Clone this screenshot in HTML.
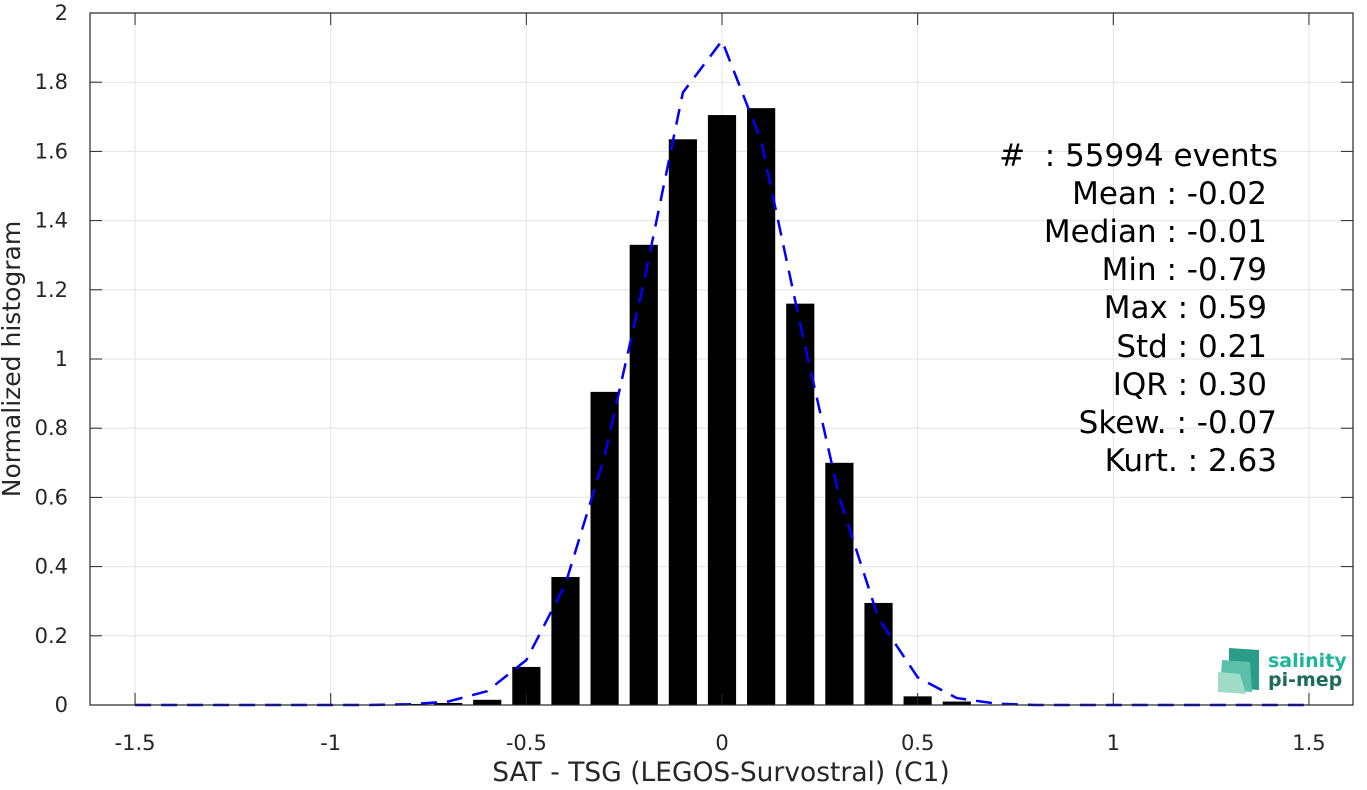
<!DOCTYPE html>
<html><head><meta charset="utf-8"><style>
body{margin:0;background:#fff;font-family:"Liberation Sans","DejaVu Sans",sans-serif}
svg text{font-family:"DejaVu Sans","Liberation Sans",sans-serif}
</style></head><body>
<svg id="chart" width="1367" height="785" xmlns="http://www.w3.org/2000/svg">
<g id="grid"></g><g id="bars"></g><g id="line"></g><g id="axes"></g>
<g font-size="31" fill="#000" text-anchor="end">
<text x="1278" y="166">#&#160;&#160;: 55994 events</text>
<text x="1267" y="204">Mean : -0.02</text>
<text x="1267" y="242">Median : -0.01</text>
<text x="1267" y="280">Min : -0.79</text>
<text x="1267" y="318">Max : 0.59</text>
<text x="1267" y="357">Std : 0.21</text>
<text x="1267" y="395">IQR : 0.30</text>
<text x="1277" y="433">Skew. : -0.07</text>
<text x="1277" y="471">Kurt. : 2.63</text>
</g>
<g>
<polygon points="1229,648 1259,650 1259,690 1229,688" fill="#2a9d8a"/>
<polygon points="1222,660 1250,662 1252,692 1220,690" fill="#5cc0a8"/>
<polygon points="1218,672 1240,674 1246,694 1218,692" fill="#9fdcc8"/>
<text x="1268" y="667" font-size="19" font-weight="bold" fill="#1fb59a">salinity</text>
<text x="1268" y="686" font-size="19" font-weight="bold" fill="#1d6b5d">pi-mep</text>
</g>
<text x="721" y="781" font-size="26.5" text-anchor="middle" fill="#262626">SAT - TSG (LEGOS-Survostral) (C1)</text>
<text transform="translate(20,359) rotate(-90)" font-size="25" text-anchor="middle" fill="#262626">Normalized histogram</text>
</svg>
<script>
const barCenters=[-0.8,-0.7,-0.6,-0.5,-0.4,-0.3,-0.2,-0.1,0,0.1,0.2,0.3,0.4,0.5,0.6];
const barValues=[0.003,0.006,0.015,0.11,0.37,0.905,1.33,1.635,1.705,1.725,1.16,0.70,0.295,0.025,0.01];
const lineX=[-1.5,-1.4,-1.3,-1.2,-1.1,-1,-0.9,-0.8,-0.7,-0.6,-0.5,-0.4,-0.3,-0.2,-0.1,0,0.1,0.2,0.3,0.4,0.5,0.6,0.7,0.8,0.9,1,1.1,1.2,1.3,1.4,1.5];
const lineY=[0,0,0,0,0,0,0,0.002,0.01,0.04,0.13,0.35,0.72,1.22,1.77,1.92,1.63,1.1,0.6,0.25,0.08,0.02,0.004,0,0,0,0,0,0,0,0];
const xTicks=[-1.5,-1,-0.5,0,0.5,1,1.5];
const xTickLabels=["-1.5","-1","-0.5","0","0.5","1","1.5"];
const yTicks=[0,0.2,0.4,0.6,0.8,1,1.2,1.4,1.6,1.8,2];
const yTickLabels=["0","0.2","0.4","0.6","0.8","1","1.2","1.4","1.6","1.8","2"];
const L=90,R=1353,T=13,B=705;
const sx=v=>722+v*391.3, sy=v=>B-v*346;
const NS="http://www.w3.org/2000/svg";
function mk(p,t,a){const e=document.createElementNS(NS,t);for(const k in a)e.setAttribute(k,a[k]);document.getElementById(p).appendChild(e);return e;}
xTicks.forEach((v,i)=>{
 const g=mk('grid','line',{x1:sx(v),x2:sx(v),y1:T,y2:B,stroke:'#e3e3e3'});
 
 
 const t=mk('axes','text',{x:sx(v),y:B+45,'font-size':21,'text-anchor':'middle',fill:'#262626'});t.textContent=xTickLabels[i];
 
 
 mk('axes','line',{x1:sx(v),x2:sx(v),y1:B,y2:B-12,stroke:'#262626'});
 mk('axes','line',{x1:sx(v),x2:sx(v),y1:T,y2:T+12,stroke:'#262626'});
});
yTicks.forEach((v,i)=>{
 const g=mk('grid','line',{x1:L,x2:R,y1:sy(v),y2:sy(v),stroke:'#e3e3e3'});
 
 
 const t=mk('axes','text',{x:L-22,y:sy(v)+7,'font-size':21,'text-anchor':'end',fill:'#262626'});t.textContent=yTickLabels[i];
 
 
 mk('axes','line',{x1:L,x2:L+12,y1:sy(v),y2:sy(v),stroke:'#262626'});
 mk('axes','line',{x1:R,x2:R-12,y1:sy(v),y2:sy(v),stroke:'#262626'});
});
barCenters.forEach((c,i)=>{
 const w=0.072*391.3;
 const b=mk('bars','rect',{x:sx(c)-w/2,y:sy(barValues[i]),width:w,height:B-sy(barValues[i]),fill:'#000'});
 
 
});
const pl=mk('line','polyline',{points:lineX.map((x,i)=>sx(x)+','+sy(lineY[i])).join(' '),fill:'none',stroke:'#0000ff','stroke-width':2.5,'stroke-dasharray':'16 10'});


const f=mk('axes','rect',{x:L,y:T,width:R-L,height:B-T,fill:'none',stroke:'#262626','stroke-width':1.2});


</script>
</body></html>
